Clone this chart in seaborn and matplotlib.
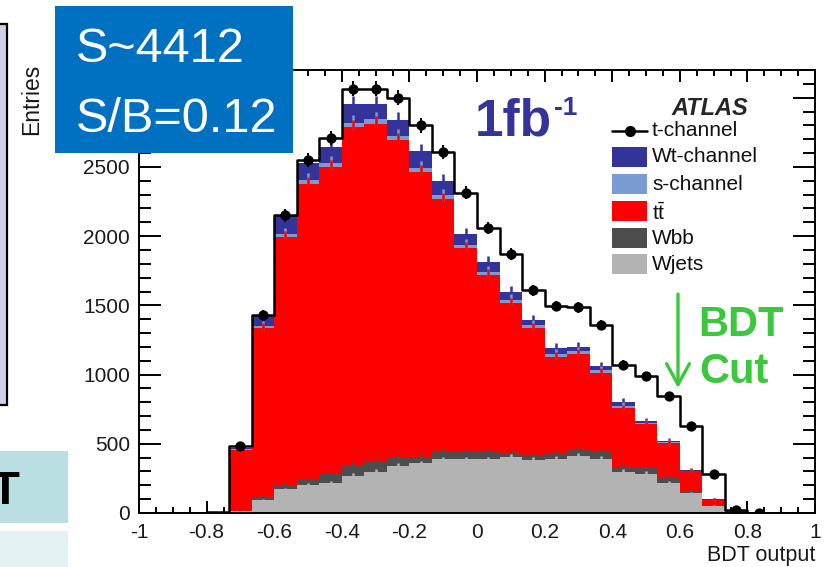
import numpy as np
import pandas as pd
import matplotlib
matplotlib.use("Agg")
import matplotlib.pyplot as plt
import seaborn as sns
from matplotlib.patches import Rectangle, FancyArrowPatch
from matplotlib.lines import Line2D
from matplotlib.ticker import FixedLocator, FixedFormatter, MultipleLocator

# ---------------- data (30 bins from -1 to 1) ----------------
bin_lo, bin_hi, n_bins = -1.0, 1.0, 30
wjets = [0, 0, 0, 3, 12, 94, 170, 202, 219, 270, 298, 342, 359, 388, 388,
         388, 406, 385, 390, 410, 390, 298, 285, 219, 142, 50, 8, 0, 0, 0]
wbb = [0, 0, 0, 0, 3, 24, 30, 36, 63, 77, 77, 60, 48, 55, 55,
       55, 25, 26, 43, 52, 50, 36, 37, 31, 18, 5, 2, 0, 0, 0]
ttbar = [0, 0, 0, 5, 440, 1215, 1795, 2142, 2218, 2442, 2438, 2291, 2058, 1822, 1468,
         1275, 1085, 924, 696, 686, 573, 422, 321, 255, 140, 40, 12, 0, 0, 0]
schan = [0, 0, 0, 0, 5, 15, 20, 25, 25, 30, 30, 30, 30, 30, 25,
         25, 25, 25, 20, 20, 20, 15, 8, 5, 3, 2, 0, 0, 0, 0]
wtchan = [0, 0, 0, 0, 12, 72, 130, 125, 120, 139, 115, 119, 121, 105, 78,
          72, 57, 33, 45, 33, 28, 33, 12, 8, 5, 3, 0, 0, 0, 0]
tchan = [0, 0, 0, 2, 15, 10, 7, 19, 65, 108, 108, 159, 185, 209, 301,
         243, 270, 217, 301, 284, 296, 265, 326, 329, 320, 182, 3, 0, 0, 0]
dot_first, dot_last = 4, 27

x_ticks = [-1, -0.8, -0.6, -0.4, -0.2, 0, 0.2, 0.4, 0.6, 0.8, 1]
x_tick_labels = ["-1", "-0.8", "-0.6", "-0.4", "-0.2", "0", "0.2", "0.4", "0.6", "0.8", "1"]
y_ticks = [0, 500, 1000, 1500, 2000, 2500, 3000]
y_tick_labels = ["0", "500", "1000", "1500", "2000", "2500", ""]

legend_labels = ["t-channel", "Wt-channel", "s-channel", r"$\mathrm{t\bar{t}}$", "Wbb", "Wjets"]
col_wt, col_s, col_tt, col_wbb, col_wj = "#333399", "#7b9bd3", "#ff0000", "#4d4d4d", "#b3b3b3"

# ---------------- style ----------------
sns.set_style("ticks")
plt.rcParams["font.family"] = ["Liberation Sans", "DejaVu Sans"]
plt.rcParams["mathtext.fontset"] = "custom"
plt.rcParams["mathtext.rm"] = "Liberation Sans"
plt.rcParams["mathtext.it"] = "Liberation Sans:italic"

W, H = 826, 567
fig = plt.figure(figsize=(W / 100, H / 100), dpi=100)
fig.patch.set_facecolor("white")


def fx(x):
    return x / W


def fy(y):
    return 1 - y / H


ax = fig.add_axes([fx(139), fy(513), (815 - 139) / W, (513 - 70) / H])

edges = np.linspace(bin_lo, bin_hi, n_bins + 1)
edge_list = edges.tolist()
centers = 0.5 * (edges[:-1] + edges[1:])

layers = [(wjets, col_wj), (wbb, col_wbb), (ttbar, col_tt), (schan, col_s), (wtchan, col_wt)]
cum = np.zeros(n_bins)
tops = []
for vals, col in layers:
    cum = cum + np.asarray(vals, dtype=float)
    tops.append((cum.copy(), col))

for top, col in reversed(tops):
    df = pd.DataFrame({"bdt": centers, "n": top})
    sns.histplot(data=df, x="bdt", weights="n", bins=edge_list, element="step", fill=True,
                 color=col, alpha=1, linewidth=0, ax=ax)
    m = top > 0
    ax.errorbar(centers[m], top[m], yerr=np.sqrt(top[m]), fmt="none",
                ecolor=col, elinewidth=1.8, capsize=0)

total = cum + np.asarray(tchan, dtype=float)
df_tot = pd.DataFrame({"bdt": centers, "n": total})
sns.histplot(data=df_tot, x="bdt", weights="n", bins=edge_list, element="step", fill=False,
             color="black", linewidth=1.8, ax=ax)
sel = slice(dot_first, dot_last + 1)
ax.errorbar(centers[sel], total[sel], yerr=np.sqrt(total[sel]), fmt="none",
            ecolor="black", elinewidth=1.5, capsize=0, zorder=4)
sns.scatterplot(data=df_tot.iloc[sel], x="bdt", y="n", color="black", s=55, linewidth=0,
                ax=ax, zorder=5)

ax.set_xlabel("")
ax.set_ylabel("")
ax.set_xlim(-1, 1)
ax.set_ylim(0, 3200)
ax.xaxis.set_major_locator(FixedLocator(x_ticks))
ax.xaxis.set_major_formatter(FixedFormatter(x_tick_labels))
ax.xaxis.set_minor_locator(MultipleLocator(0.05))
ax.yaxis.set_major_locator(FixedLocator(y_ticks))
ax.yaxis.set_major_formatter(FixedFormatter(y_tick_labels))
ax.yaxis.set_minor_locator(MultipleLocator(100))
ax.tick_params(which="both", direction="in", top=True, right=True, width=1.4,
               color="black", labelcolor="#1a1a1a", labelsize=15)
ax.tick_params(axis="x", which="major", length=8.6, pad=7)
ax.tick_params(axis="x", which="minor", length=4.3)
ax.tick_params(axis="y", which="major", length=15.8, pad=6.5)
ax.tick_params(axis="y", which="minor", length=8.6)
for sp in ax.spines.values():
    sp.set_linewidth(1.4)
    sp.set_color("black")

# axis titles (ROOT style)
fig.text(fx(32), fy(64), "Entries", rotation=90, ha="center", va="top", fontsize=16.5, color="#1a1a1a")
fig.text(fx(815), fy(555), "BDT output", ha="right", va="center", fontsize=15.5, color="#1a1a1a")

# ---------------- legend ----------------
fig.text(fx(671), fy(115), "ATLAS", fontsize=17, style="italic", weight="bold", va="baseline")
rows_y = [131, 157, 184, 211, 238, 264]
fig.add_artist(Line2D([fx(612), fx(647)], [fy(131), fy(131)], color="black", lw=1.8,
                      transform=fig.transFigure))
fig.add_artist(Line2D([fx(629.5)], [fy(131)], color="black", marker="o", markersize=7,
                      transform=fig.transFigure))
for yy, col in zip(rows_y[1:], [col_wt, col_s, col_tt, col_wbb, col_wj]):
    fig.add_artist(Rectangle((fx(612), fy(yy + 10)), 35 / W, 20 / H, transform=fig.transFigure,
                             facecolor=col, edgecolor="none"))
for yy, lab in zip(rows_y, legend_labels):
    dy = 2 if lab.startswith("$") else 0
    fig.text(fx(652), fy(yy + dy), lab, fontsize=15, va="center", ha="left", color="#111111")

# ---------------- annotations ----------------
fig.text(fx(475), fy(135), "1fb", fontsize=37, weight="bold", color="#333399", va="baseline")
fig.text(fx(554), fy(115), "-1", fontsize=19, weight="bold", color="#333399", va="baseline")

green = "#3cc83c"
fig.text(fx(698), fy(336), "BDT", fontsize=30, weight="bold", color=green, va="baseline")
fig.text(fx(699), fy(383), "Cut", fontsize=30, weight="bold", color=green, va="baseline")
fig.add_artist(FancyArrowPatch((fx(678), fy(294)), (fx(678), fy(388)), transform=fig.transFigure,
                               arrowstyle="->,head_length=1.0,head_width=0.55", mutation_scale=15,
                               color=green, lw=2.4, shrinkA=0, shrinkB=0))

# ---------------- slide elements ----------------
fig.add_artist(Rectangle((fx(-10), fy(405)), 17 / W, (405 - 24) / H, transform=fig.transFigure,
                         facecolor="#d0d0ec", edgecolor="black", lw=1.6, zorder=10))
fig.add_artist(Rectangle((0, fy(523)), 68 / W, (523 - 451) / H, transform=fig.transFigure,
                         facecolor="#b9dfe2", edgecolor="none", zorder=10))
fig.text(fx(5), fy(504), "T", fontsize=34, weight="bold", color="black", ha="center",
         va="baseline", zorder=11)
fig.add_artist(Rectangle((0, 0), 68 / W, (567 - 531) / H, transform=fig.transFigure,
                         facecolor="#e5f2f4", edgecolor="none", zorder=10))

fig.add_artist(Rectangle((fx(55), fy(153)), (293 - 55) / W, (153 - 6) / H, transform=fig.transFigure,
                         facecolor="#0070c0", edgecolor="none", zorder=10))
fig.text(fx(76), fy(62), "S~4412", fontsize=35, color="white", va="baseline", zorder=11)
fig.text(fx(76), fy(132), "S/B=0.12", fontsize=35, color="white", va="baseline", zorder=11)

fig.savefig("out.png", dpi=100)
